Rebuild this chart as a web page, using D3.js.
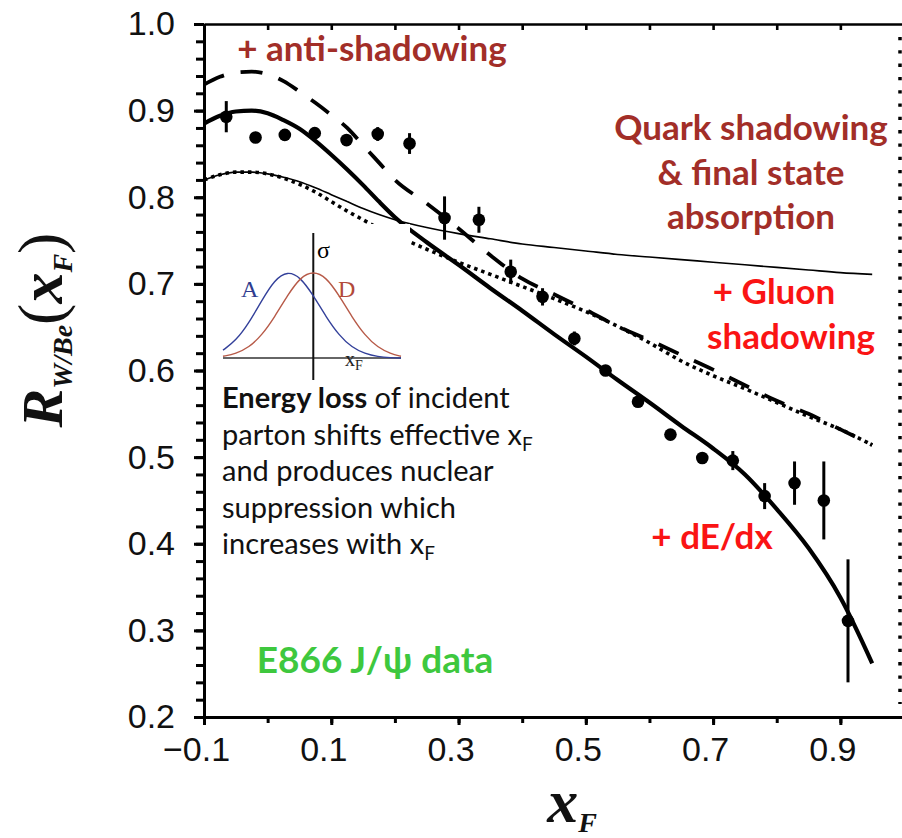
<!DOCTYPE html>
<html>
<head>
<meta charset="utf-8">
<script src="https://cdn.jsdelivr.net/npm/d3@7"></script>
<style>
  html, body { margin: 0; padding: 0; background: #fff; }
  svg { display: block; }
</style>
</head>
<body>
<div id="chart"></div>
<script>
'use strict';

// E866 J/psi measurement, R(W/Be) vs xF
var dataX = [-0.065, -0.019, 0.027, 0.074, 0.124, 0.173, 0.223, 0.278, 0.332, 0.382, 0.432,
             0.482, 0.531, 0.582, 0.633, 0.683, 0.731, 0.781, 0.828, 0.874, 0.912];
var dataR = [0.893, 0.869, 0.872, 0.874, 0.866, 0.873, 0.862, 0.776, 0.774, 0.714, 0.685,
             0.637, 0.600, 0.564, 0.526, 0.499, 0.496, 0.455, 0.470, 0.450, 0.311];
var dataErr = [0.018, 0.006, 0.005, 0.005, 0.006, 0.008, 0.012, 0.025, 0.015, 0.014, 0.010,
               0.008, 0.006, 0.006, 0.006, 0.006, 0.011, 0.015, 0.025, 0.045, 0.071];

// model curves, sampled on a common xF grid
var curveX = [-0.1, -0.075, -0.05, -0.025, 0, 0.025, 0.05, 0.075, 0.1, 0.125, 0.15, 0.175, 0.2,
              0.25, 0.3, 0.35, 0.4, 0.45, 0.5, 0.55, 0.6, 0.65, 0.7, 0.75, 0.8, 0.85, 0.9, 0.95];
var quarkAbs = [0.820, 0.826, 0.829, 0.829, 0.827, 0.823, 0.818, 0.811, 0.803, 0.795, 0.787, 0.780, 0.774,
                0.765, 0.758, 0.752, 0.746, 0.742, 0.738, 0.734, 0.731, 0.728, 0.725, 0.722, 0.719, 0.716, 0.713, 0.711];
var gluonShad = [0.820, 0.826, 0.829, 0.829, 0.827, 0.822, 0.815, 0.806, 0.795, 0.784, 0.774, 0.764, 0.756,
                 0.740, 0.725, 0.711, 0.697, 0.683, 0.668, 0.651, 0.632, 0.611, 0.594, 0.579, 0.563, 0.547, 0.532, 0.514];
var antiShad = [0.930, 0.939, 0.944, 0.945, 0.942, 0.934, 0.922, 0.909, 0.895, 0.880, 0.860, 0.840, 0.820,
                0.793, 0.764, 0.733, 0.706, 0.688, 0.670, 0.651, 0.635, 0.618, 0.601, 0.583, 0.565, 0.550, 0.532, 0.514];
var dEdx = [0.885, 0.894, 0.899, 0.900, 0.897, 0.889, 0.879, 0.865, 0.849, 0.832, 0.814, 0.795, 0.777,
            0.748, 0.722, 0.695, 0.669, 0.642, 0.616, 0.589, 0.563, 0.536, 0.510, 0.480, 0.440, 0.395, 0.338, 0.262];

var xMajor = [-0.1, 0.1, 0.3, 0.5, 0.7, 0.9];
var xMinor = [-0.1, 0, 0.1, 0.2, 0.3, 0.4, 0.5, 0.6, 0.7, 0.8, 0.9, 1.0];
var yMajor = [0.2, 0.3, 0.4, 0.5, 0.6, 0.7, 0.8, 0.9, 1.0];
var yMinor = d3.range(0.2, 1.0001, 0.02);

// inset sketch: two cross-section bumps (A shifted left of D)
var insetU = [-3.5, -3, -2.5, -2, -1.5, -1, -0.5, 0, 0.5, 1, 1.5, 2, 2.5, 3, 3.4];
var insetA = [0.09, 0.2, 0.4, 0.66, 0.9, 1.0, 0.93, 0.72, 0.47, 0.26, 0.12, 0.05, 0.015, 0.003, 0];
var insetD = [0.02, 0.05, 0.12, 0.26, 0.47, 0.72, 0.93, 1.0, 0.93, 0.72, 0.47, 0.26, 0.12, 0.05, 0.02];

var W = 902, H = 838;
var darkRed = "#a22e28", red = "#fa1414", green = "#3ec83e";
var slideFont = "Lato, 'Open Sans', sans-serif";

var svg = d3.select("#chart").append("svg")
    .attr("width", W)
    .attr("height", H);

var x = d3.scaleLinear().domain([-0.1, 1.0]).range([204, 904]);
var y = d3.scaleLinear().domain([0.2, 1.0]).range([717, 24]);

var line = d3.line()
    .x(function (d) { return x(d[0]); })
    .y(function (d) { return y(d[1]); })
    .curve(d3.curveMonotoneX);

function zipCurve(vals) {
    return curveX.map(function (v, i) { return [v, vals[i]]; });
}

/*
  Curves
*/
var curves = svg.append("g").attr("class", "curves").attr("fill", "none").attr("stroke", "#000");

curves.append("path")
    .attr("d", line(zipCurve(quarkAbs)))
    .attr("stroke-width", 1.6);

curves.append("path")
    .attr("d", line(zipCurve(gluonShad)))
    .attr("stroke-width", 3.6)
    .attr("stroke-dasharray", "3.5 4");

curves.append("path")
    .attr("d", line(zipCurve(antiShad)))
    .attr("stroke-width", 3.8)
    .attr("stroke-dasharray", "22 17");

curves.append("path")
    .attr("d", line(zipCurve(dEdx)))
    .attr("stroke-width", 4.2);

/*
  Inset sketch (white box covers curves)
*/
svg.append("rect")
    .attr("x", 214).attr("y", 224)
    .attr("width", 196).attr("height", 150)
    .attr("fill", "#fff");

var ix = d3.scaleLinear().domain([-3.5, 3.4]).range([223, 401]);
var iy = d3.scaleLinear().domain([0, 1]).range([358, 271]);
var insetLine = d3.line()
    .x(function (d, i) { return ix(insetU[i]); })
    .y(function (d) { return iy(d); })
    .curve(d3.curveBasis);

var inset = svg.append("g").attr("class", "inset");
inset.append("line")
    .attr("x1", ix(-3.5)).attr("x2", ix(3.4))
    .attr("y1", iy(0)).attr("y2", iy(0))
    .attr("stroke", "#333").attr("stroke-width", 1.6);
inset.append("line")
    .attr("x1", ix(0)).attr("x2", ix(0))
    .attr("y1", 233).attr("y2", 380)
    .attr("stroke", "#111").attr("stroke-width", 2);
inset.append("path")
    .attr("d", insetLine(insetA))
    .attr("fill", "none").attr("stroke", "#33409a").attr("stroke-width", 1.4);
inset.append("path")
    .attr("d", insetLine(insetD))
    .attr("fill", "none").attr("stroke", "#b75a48").attr("stroke-width", 1.4);

inset.append("text").attr("x", 317).attr("y", 258)
    .style("font", "24px 'Liberation Serif', serif").text("σ");
inset.append("text").attr("x", 241).attr("y", 297)
    .style("font", "24px 'Liberation Serif', serif").attr("fill", "#2f3c8f").text("A");
inset.append("text").attr("x", 338).attr("y", 297)
    .style("font", "24px 'Liberation Serif', serif").attr("fill", "#b24a3a").text("D");
var ixf = inset.append("text").attr("x", 345).attr("y", 366)
    .style("font", "20px 'Liberation Serif', serif").attr("fill", "#222");
ixf.append("tspan").text("x");
ixf.append("tspan").attr("dy", 4).style("font-size", "14px").text("F");

/*
  Data points
*/
var pts = svg.append("g").attr("class", "points");
pts.selectAll("line")
    .data(dataX)
    .enter().append("line")
    .attr("x1", function (d) { return x(d); })
    .attr("x2", function (d) { return x(d); })
    .attr("y1", function (d, i) { return y(dataR[i] + dataErr[i]); })
    .attr("y2", function (d, i) { return y(dataR[i] - dataErr[i]); })
    .attr("stroke", "#000")
    .attr("stroke-width", 3);
pts.selectAll("circle")
    .data(dataX)
    .enter().append("circle")
    .attr("cx", function (d) { return x(d); })
    .attr("cy", function (d, i) { return y(dataR[i]); })
    .attr("r", 6.3)
    .attr("fill", "#000");

/*
  Axes
*/
var tickFont = "34px 'Liberation Sans', Arial, sans-serif";

svg.append("g")
    .attr("transform", "translate(0," + y(0.2) + ")")
    .call(d3.axisBottom(x).tickValues(xMinor).tickSize(6).tickSizeOuter(0).tickFormat(""))
    .call(function (g) { g.selectAll("path, line").attr("stroke-width", 3); });

svg.append("g")
    .attr("transform", "translate(0," + y(0.2) + ")")
    .call(d3.axisBottom(x).tickValues(xMajor).tickSize(8).tickPadding(12).tickFormat(d3.format(".1f")))
    .call(function (g) {
        g.select(".domain").remove();
        g.selectAll("line").attr("stroke-width", 3);
        g.selectAll("text").style("font", tickFont).attr("fill", "#111").attr("dx", -8);
    });

svg.append("g")
    .attr("transform", "translate(0," + y(1.0) + ")")
    .call(d3.axisBottom(x).tickValues(xMinor).tickSize(6).tickSizeOuter(0).tickFormat(""))
    .call(function (g) { g.selectAll("path, line").attr("stroke-width", 2.6); });

svg.append("g")
    .attr("transform", "translate(" + x(-0.1) + ",0)")
    .call(d3.axisLeft(y).tickValues(yMinor).tickSize(8).tickSizeOuter(0).tickFormat(""))
    .call(function (g) { g.selectAll("path, line").attr("stroke-width", 3); });

svg.append("g")
    .attr("transform", "translate(" + x(-0.1) + ",0)")
    .call(d3.axisLeft(y).tickValues(yMajor).tickSize(10).tickPadding(19).tickFormat(d3.format(".1f")))
    .call(function (g) {
        g.select(".domain").remove();
        g.selectAll("line").attr("stroke-width", 3);
        g.selectAll("text").style("font", tickFont).attr("fill", "#111");
    });

// dotted right edge
svg.append("line")
    .attr("x1", 900).attr("x2", 900)
    .attr("y1", y(0.985)).attr("y2", y(0.215))
    .attr("stroke", "#000")
    .attr("stroke-width", 3.5)
    .attr("stroke-dasharray", "3.3 10");

/*
  Axis titles
*/
var yTitle = svg.append("text")
    .attr("transform", "translate(62,330) rotate(-90)")
    .attr("text-anchor", "middle")
    .style("font-family", "'Liberation Serif', 'DejaVu Serif', serif")
    .style("font-style", "italic")
    .style("font-weight", "bold")
    .attr("fill", "#111");
yTitle.append("tspan").style("font-size", "58px").text("R");
yTitle.append("tspan").style("font-size", "28px").attr("dy", 10).text("W/Be");
yTitle.append("tspan").style("font-size", "64px").style("font-style", "normal").style("font-weight", "normal").attr("dy", -10).text("(");
yTitle.append("tspan").style("font-size", "62px").text("x");
yTitle.append("tspan").style("font-size", "28px").attr("dy", 10).text("F");
yTitle.append("tspan").style("font-size", "64px").style("font-style", "normal").style("font-weight", "normal").attr("dy", -10).text(")");

var xTitle = svg.append("text")
    .attr("x", 572).attr("y", 822)
    .attr("text-anchor", "middle")
    .style("font-family", "'Liberation Serif', 'DejaVu Serif', serif")
    .style("font-style", "italic")
    .style("font-weight", "bold")
    .attr("fill", "#111");
xTitle.append("tspan").style("font-size", "62px").text("x");
xTitle.append("tspan").style("font-size", "28px").attr("dy", 10).text("F");

/*
  Annotations
*/
function label(txt, px, py, size, color, anchor) {
    return svg.append("text")
        .attr("x", px).attr("y", py)
        .attr("text-anchor", anchor || "middle")
        .style("font-family", slideFont)
        .style("font-weight", "bold")
        .style("font-size", size + "px")
        .attr("fill", color)
        .text(txt);
}

label("+ anti-shadowing", 372, 61, 35, darkRed);
label("Quark shadowing", 751, 140, 35, darkRed);
label("& final state", 751, 185, 35, darkRed);
label("absorption", 751, 229, 35, darkRed);
label("+ Gluon", 774, 304, 35, red);
label("shadowing", 791, 349, 35, red);
label("+ dE/dx", 712, 549, 35, red);
label("E866 J/ψ data", 375, 673, 37, green);

var body = svg.append("g")
    .style("font-family", slideFont)
    .style("font-size", "29px")
    .attr("fill", "#111");
var bodyLines = [
    [["Energy loss", true], [" of incident", false]],
    [["parton shifts effective x", false], ["F", "sub"]],
    [["and produces nuclear", false]],
    [["suppression which", false]],
    [["increases with x", false], ["F", "sub"]]
];
bodyLines.forEach(function (ln, i) {
    var t = body.append("text").attr("x", 222).attr("y", 408 + i * 36.5);
    ln.forEach(function (part) {
        var s = t.append("tspan").text(part[0]);
        if (part[1] === true) s.style("font-weight", "bold");
        if (part[1] === "sub") s.style("font-size", "19px").attr("dy", 6);
    });
});
</script>
</body>
</html>
